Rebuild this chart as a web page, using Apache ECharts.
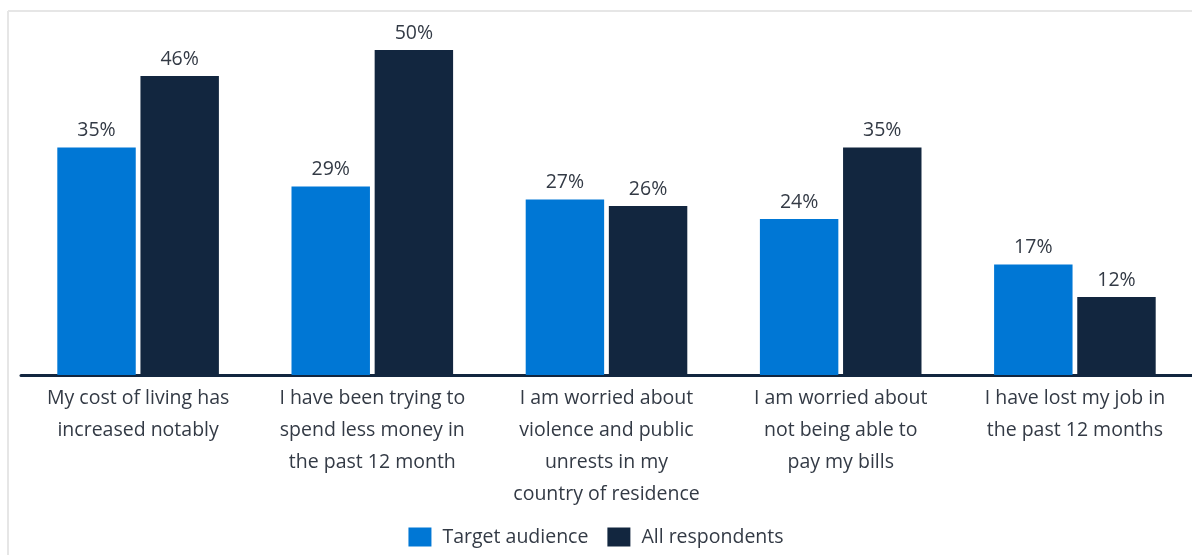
<!DOCTYPE html>
<html>
<head>
<meta charset="utf-8">
<script src="https://cdn.jsdelivr.net/npm/echarts@6/dist/echarts.min.js"></script>
<style>
  html, body { margin: 0; padding: 0; background: #fff; }
  #chart { width: 1192px; height: 555px; }
</style>
</head>
<body>
<div id="chart"></div>
<script>
// Survey statements (x-axis categories)
const categories = [
  'My cost of living has\nincreased notably',
  'I have been trying to\nspend less money in\nthe past 12 month',
  'I am worried about\nviolence and public\nunrests in my\ncountry of residence',
  'I am worried about\nnot being able to\npay my bills',
  'I have lost my job in\nthe past 12 months'
];

// Share of respondents agreeing, in percent
const targetAudience = [35, 29, 27, 24, 17];
const allRespondents = [46, 50, 26, 35, 12];

const seriesNames = ['Target audience', 'All respondents'];
const colors = ['#0077d5', '#12263f'];

const FONT = '"Open Sans", "Noto Sans", sans-serif';
const TEXT = '#333a45';

const chart = echarts.init(document.getElementById('chart'), null, { renderer: 'canvas' });

const labelStyle = {
  show: true,
  position: 'top',
  distance: 7,
  formatter: '{c}%',
  fontFamily: FONT,
  fontSize: 19.5,
  color: TEXT
};

chart.setOption({
  animation: false,
  backgroundColor: '#ffffff',
  color: colors,
  graphic: [
    // thin frame along the top and left edge
    { type: 'line', shape: { x1: 8, y1: 11, x2: 1192, y2: 11 },
      style: { stroke: '#e6e6e6', lineWidth: 2 } },
    { type: 'line', shape: { x1: 8, y1: 11, x2: 8, y2: 555 },
      style: { stroke: '#e6e6e6', lineWidth: 2 } }
  ],
  grid: { left: 21, right: 0, top: 50, bottom: 180, containLabel: false },
  legend: {
    top: 522,
    left: 'center',
    itemWidth: 23,
    itemHeight: 19,
    itemGap: 19,
    icon: 'rect',
    textStyle: { fontFamily: FONT, fontSize: 19.5, color: TEXT, padding: [0, 0, 0, 6] },
    data: seriesNames
  },
  xAxis: {
    type: 'category',
    data: categories,
    axisLine: { show: true, lineStyle: { color: '#12263f', width: 3 } },
    axisTick: { show: false },
    axisLabel: {
      interval: 0,
      margin: 7,
      fontFamily: FONT,
      fontSize: 19.5,
      lineHeight: 32,
      color: TEXT,
      align: 'center'
    }
  },
  yAxis: {
    type: 'value',
    min: 0,
    max: 50,
    show: false,
    splitLine: { show: false }
  },
  series: [
    {
      name: seriesNames[0],
      type: 'bar',
      data: targetAudience,
      barGap: '6%',
      barCategoryGap: '31%',
      label: labelStyle
    },
    {
      name: seriesNames[1],
      type: 'bar',
      data: allRespondents,
      label: labelStyle
    }
  ]
});
</script>
</body>
</html>
